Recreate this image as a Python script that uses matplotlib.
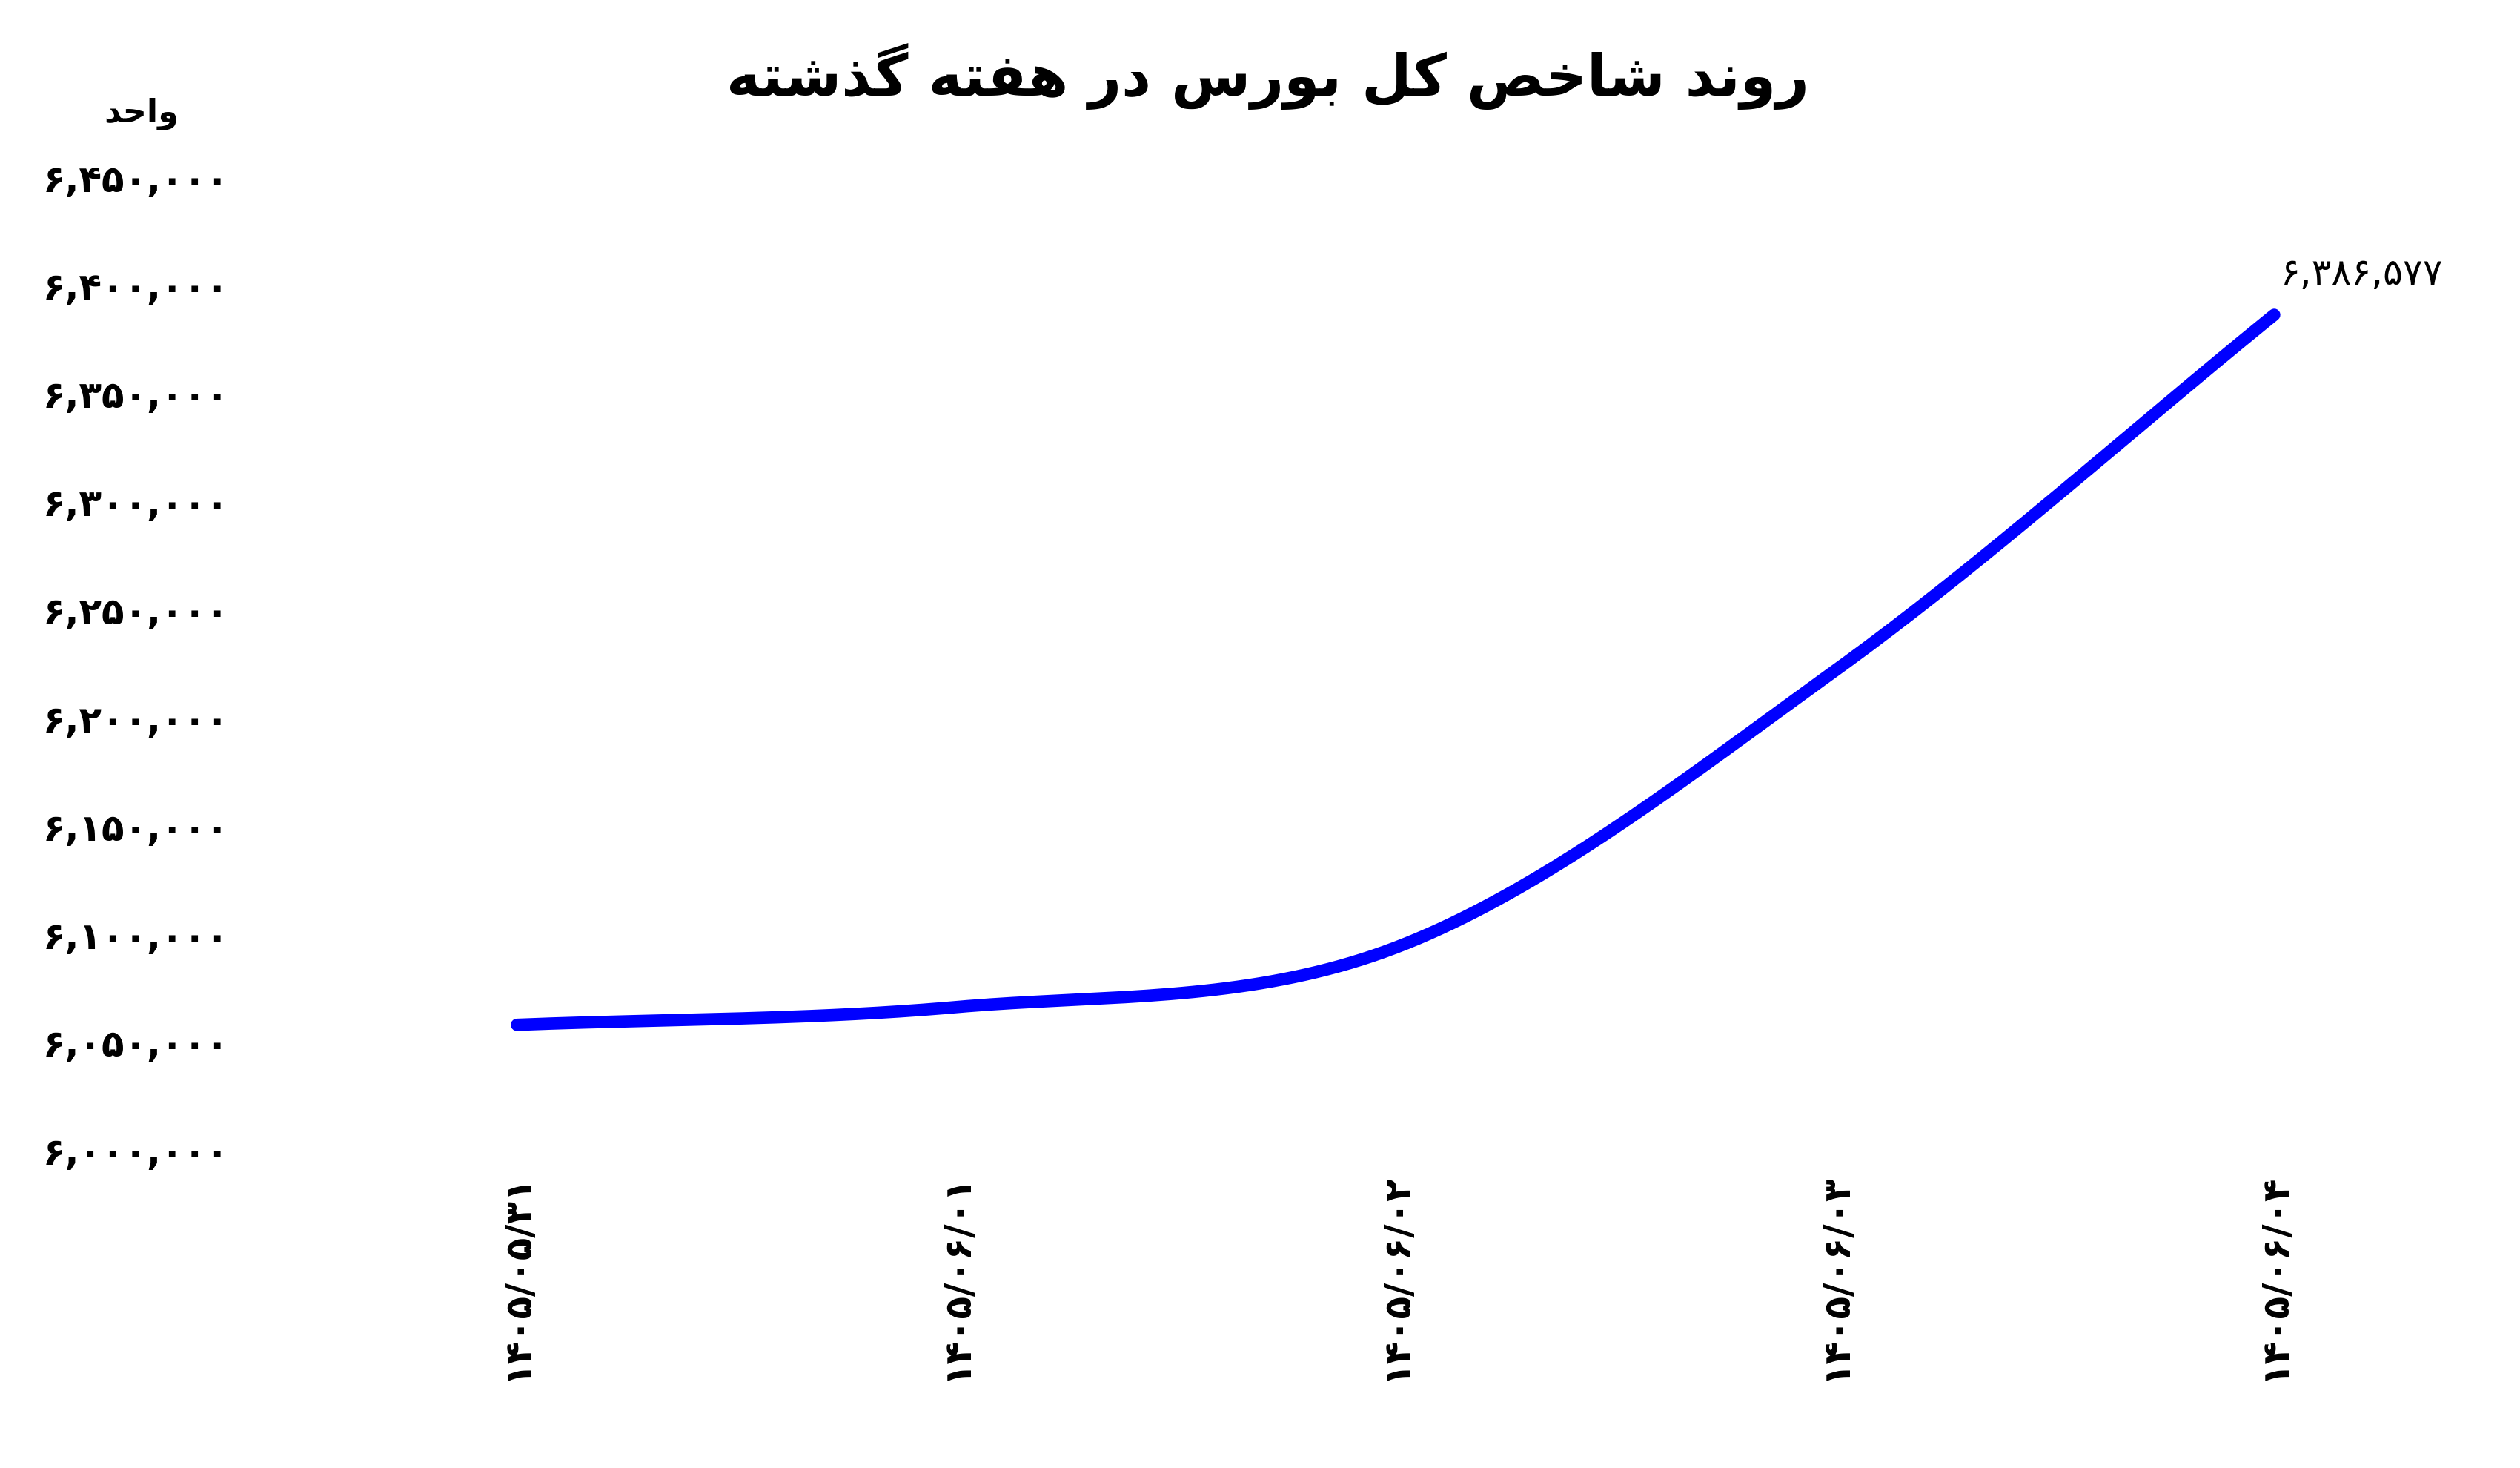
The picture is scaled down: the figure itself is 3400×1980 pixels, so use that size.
import numpy as np
import matplotlib.pyplot as plt

# simple Persian shaping: contextual presentation forms, visual (right-to-left) order
FORMS = {
    'ا': ('\uFE8D', '\uFE8E', None, None), 'ب': ('\uFE8F', '\uFE90', '\uFE91', '\uFE92'),
    'ت': ('\uFE95', '\uFE96', '\uFE97', '\uFE98'), 'ح': ('\uFEA1', '\uFEA2', '\uFEA3', '\uFEA4'),
    'خ': ('\uFEA5', '\uFEA6', '\uFEA7', '\uFEA8'), 'د': ('\uFEA9', '\uFEAA', None, None),
    'ذ': ('\uFEAB', '\uFEAC', None, None), 'ر': ('\uFEAD', '\uFEAE', None, None),
    'س': ('\uFEB1', '\uFEB2', '\uFEB3', '\uFEB4'), 'ش': ('\uFEB5', '\uFEB6', '\uFEB7', '\uFEB8'),
    'ص': ('\uFEB9', '\uFEBA', '\uFEBB', '\uFEBC'), 'ف': ('\uFED1', '\uFED2', '\uFED3', '\uFED4'),
    'ک': ('\uFB8E', '\uFB8F', '\uFB90', '\uFB91'), 'گ': ('\uFB92', '\uFB93', '\uFB94', '\uFB95'),
    'ل': ('\uFEDD', '\uFEDE', '\uFEDF', '\uFEE0'), 'ن': ('\uFEE5', '\uFEE6', '\uFEE7', '\uFEE8'),
    'ه': ('\uFEE9', '\uFEEA', '\uFEEB', '\uFEEC'), 'و': ('\uFEED', '\uFEEE', None, None),
}


def shape(text):
    words = []
    for w in text.split(' '):
        out = []
        for i, c in enumerate(w):
            if c not in FORMS:
                out.append(c)
                continue
            prev = w[i - 1] if i > 0 else None
            nxt = w[i + 1] if i < len(w) - 1 else None
            jp = prev in FORMS and FORMS[prev][2] is not None
            jn = FORMS[c][2] is not None and nxt in FORMS
            iso, fin, ini, med = FORMS[c]
            out.append(med if jp and jn else fin if jp else ini if jn else iso)
        words.append(''.join(out[::-1]))
    return ' '.join(words[::-1])


def fa(s):
    return s.translate(str.maketrans('0123456789', '۰۱۲۳۴۵۶۷۸۹'))


def smooth(xs, ys, n=40):
    # cubic Hermite through the points (display only), Catmull-Rom tangents
    xs, ys = np.asarray(xs, float), np.asarray(ys, float)
    m = np.gradient(ys, xs)
    px, py = [], []
    for i in range(len(xs) - 1):
        t = np.linspace(0, 1, n)
        h = xs[i + 1] - xs[i]
        h00, h10 = 2*t**3 - 3*t**2 + 1, t**3 - 2*t**2 + t
        h01, h11 = -2*t**3 + 3*t**2, t**3 - t**2
        px.extend(xs[i] + t*h)
        py.extend(h00*ys[i] + h10*h*m[i] + h01*ys[i+1] + h11*h*m[i+1])
    return px, py


dates = ['1405/05/31', '1405/06/01', '1405/06/02', '1405/06/03', '1405/06/04']
index_values = [6058300, 6066500, 6094000, 6222000, 6386577]
yticks = list(range(6000000, 6450001, 50000))

plt.rcParams['font.family'] = ['DejaVu Sans']
fig = plt.figure(figsize=(34, 19.8), dpi=100)
ax = fig.add_axes([0.1, 0.216, 0.83, 0.663])

x = list(range(len(dates)))
sx, sy = smooth(x, index_values)
ax.plot(sx, sy, color='#0000FF', lw=12, solid_capstyle='round', solid_joinstyle='round')
ax.set_ylim(6000000, 6450000)
ax.set_xlim(-0.603, 4.158)
ax.set_yticks(yticks)
ax.set_yticklabels([fa(f'{v:,}') for v in yticks], fontsize=36, fontweight='bold')
ax.set_xticks(x)
ax.set_xticklabels([fa(d) for d in dates], rotation=90, fontsize=36, fontweight='bold')
ax.tick_params(length=0, pad=22)
for s in ax.spines.values():
    s.set_visible(False)

ax.annotate(fa(f'{index_values[-1]:,}'), (x[-1], index_values[-1]), xytext=(6, 22),
            textcoords='offset points', fontsize=36, ha='left', va='bottom')

fig.text(0.503, 0.948, shape('روند شاخص کل بورس در هفته گذشته'), ha='center', va='center',
         fontsize=56, fontweight='bold')
fig.text(0.056, 0.922, shape('واحد'), ha='center', va='center', fontsize=32, fontweight='bold')

fig.savefig('out.png')
